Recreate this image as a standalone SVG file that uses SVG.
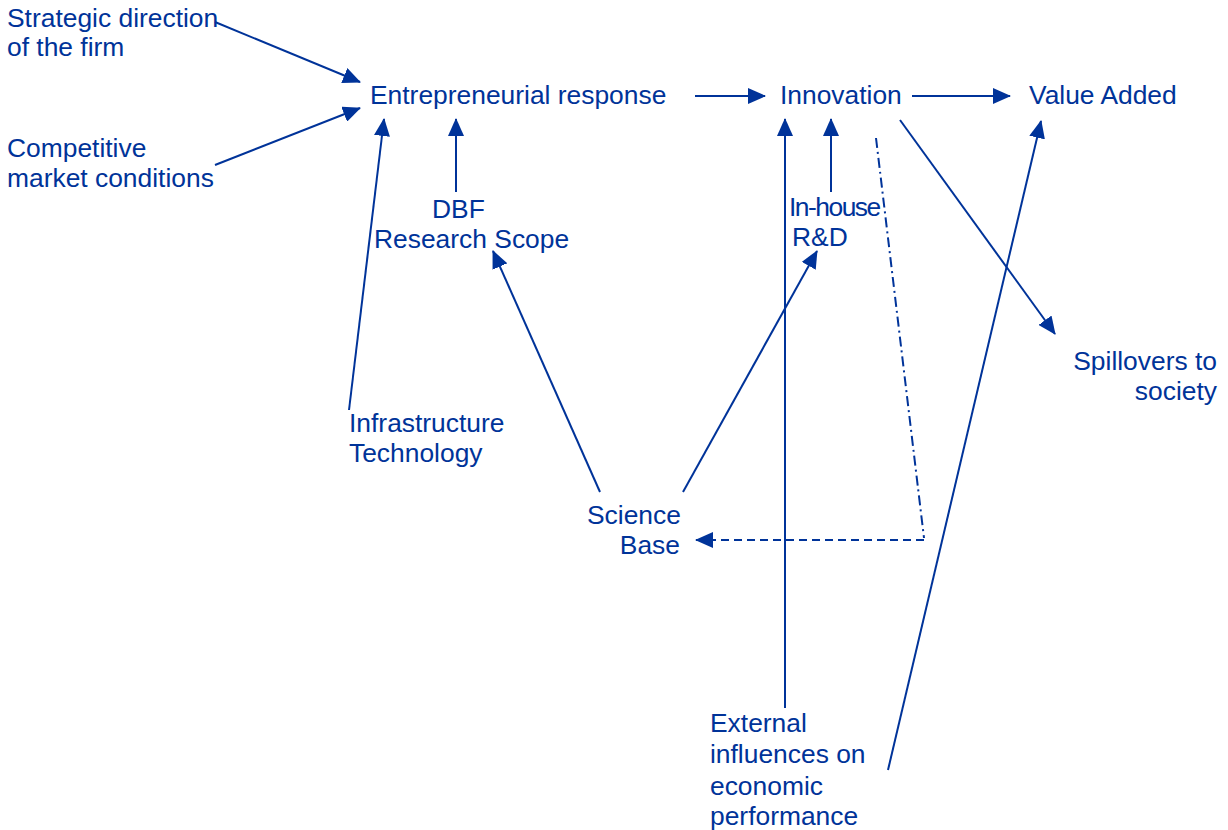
<svg xmlns="http://www.w3.org/2000/svg" width="1228" height="830" viewBox="0 0 1228 830">
<style>
text{font-family:"Liberation Sans",Arial,sans-serif;font-size:26.4px;fill:#003399}
.c line,.c polyline{stroke:#003399;stroke-width:2;fill:none}
.r{text-anchor:end}
</style>
<defs>
<marker id="a" markerUnits="userSpaceOnUse" markerWidth="18" markerHeight="16" refX="17" refY="8" orient="auto">
<path d="M0,0 L18,8 L0,16 Z" fill="#003399"/>
</marker>
</defs>
<rect width="1228" height="830" fill="#fff"/>
<g class="c">
<line x1="215" y1="22" x2="360" y2="82" marker-end="url(#a)"/>
<line x1="215" y1="165" x2="360" y2="108" marker-end="url(#a)"/>
<line x1="695" y1="96" x2="765" y2="96" marker-end="url(#a)"/>
<line x1="912" y1="96" x2="1010" y2="96" marker-end="url(#a)"/>
<line x1="456" y1="192" x2="456" y2="119" marker-end="url(#a)"/>
<line x1="349" y1="410" x2="384" y2="119" marker-end="url(#a)"/>
<line x1="600" y1="492" x2="493" y2="251" marker-end="url(#a)"/>
<line x1="683" y1="492" x2="817" y2="251" marker-end="url(#a)"/>
<line x1="831" y1="192" x2="831" y2="119" marker-end="url(#a)"/>
<line x1="785" y1="708" x2="785" y2="119" marker-end="url(#a)"/>
<line x1="888" y1="770" x2="1041" y2="121" marker-end="url(#a)"/>
<line x1="900" y1="120" x2="1055" y2="334" marker-end="url(#a)"/>
<line x1="876" y1="138" x2="924" y2="538" stroke-dasharray="10 4 2 4"/>
<line x1="924" y1="540" x2="696" y2="540" stroke-dasharray="8 5" marker-end="url(#a)"/>
</g>
<g id="strategic"><text x="7" y="27">Strategic direction</text><text x="7" y="56">of the firm</text></g>
<g id="competitive"><text x="7" y="157">Competitive</text><text x="7" y="187">market conditions</text></g>
<g id="entrepreneurial"><text x="370" y="104">Entrepreneurial response</text></g>
<g id="innovation"><text x="780" y="104">Innovation</text></g>
<g id="value"><text x="1029" y="104">Value Added</text></g>
<g id="dbf"><text x="432" y="218">DBF</text><text x="374" y="248">Research Scope</text></g>
<g id="inhouse"><text x="789" y="216" letter-spacing="-1.5">In-house</text><text x="792" y="246">R&amp;D</text></g>
<g id="spillovers"><text class="r" x="1217" y="370">Spillovers to</text><text class="r" x="1217" y="400">society</text></g>
<g id="infrastructure"><text x="349" y="432">Infrastructure</text><text x="349" y="462">Technology</text></g>
<g id="science"><text x="587" y="524">Science</text><text class="r" x="680" y="554">Base</text></g>
<g id="external"><text x="710" y="732">External</text><text x="710" y="763">influences on</text><text x="710" y="795">economic</text><text x="710" y="825">performance</text></g>
</svg>
